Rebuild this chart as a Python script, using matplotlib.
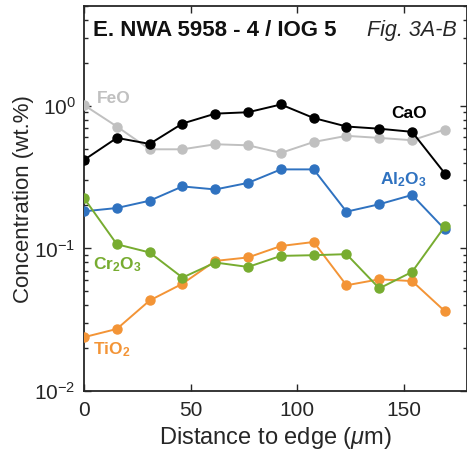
import matplotlib
matplotlib.use("Agg")
import matplotlib.pyplot as plt
from matplotlib.ticker import LogLocator, FixedLocator

plt.rcParams['font.family'] = ['Liberation Sans', 'DejaVu Sans']
plt.rcParams['mathtext.fontset'] = 'custom'
plt.rcParams['mathtext.rm'] = 'Liberation Sans'
plt.rcParams['mathtext.it'] = 'Liberation Sans:italic'
plt.rcParams['mathtext.bf'] = 'Liberation Sans:bold'
plt.rcParams['mathtext.default'] = 'regular'

distance = [0, 15.4, 30.8, 46.2, 61.6, 77.0, 92.4, 107.8, 123.2, 138.6, 154.0, 169.4]
cao = [0.417, 0.595, 0.54, 0.75, 0.88, 0.90, 1.02, 0.82, 0.715, 0.69, 0.656, 0.335]
feo = [1.01, 0.715, 0.495, 0.495, 0.537, 0.528, 0.467, 0.557, 0.615, 0.595, 0.573, 0.68]
al2o3 = [0.182, 0.192, 0.216, 0.272, 0.259, 0.288, 0.358, 0.358, 0.181, 0.204, 0.237, 0.136]
cr2o3 = [0.225, 0.107, 0.0937, 0.0625, 0.0797, 0.0742, 0.0887, 0.0897, 0.0912, 0.0525, 0.0685, 0.143]
tio2 = [0.0239, 0.0273, 0.0432, 0.0566, 0.0818, 0.0865, 0.104, 0.111, 0.0552, 0.0608, 0.0591, 0.0363]

series = [
    ("FeO", feo, "#c0c0c0"),
    ("CaO", cao, "#000000"),
    ("Al$_2$O$_3$", al2o3, "#2f72c0"),
    ("TiO$_2$", tio2, "#f39436"),
    ("Cr$_2$O$_3$", cr2o3, "#77ac30"),
]

fig = plt.figure(figsize=(4.67, 4.57), dpi=100)
ax = fig.add_axes([0.180, 0.144, 0.821, 0.843])

for name, vals, col in series:
    ax.plot(distance, vals, '-o', color=col, lw=1.4, ms=6.5, zorder=3)

ax.set_yscale('log')
ax.set_xlim(0, 180)
ax.set_ylim(0.01, 5)
ax.xaxis.set_major_locator(FixedLocator([0, 50, 100, 150]))
ax.yaxis.set_major_locator(LogLocator(base=10, numticks=10))
ax.yaxis.set_minor_locator(LogLocator(base=10, subs=range(2, 10), numticks=10))

dark = '#262626'
for s in ax.spines.values():
    s.set_color(dark)
    s.set_linewidth(1.3)
ax.tick_params(which='both', direction='in', top=True, right=True, color=dark,
               labelcolor=dark, labelsize=15, width=1.0)
ax.tick_params(which='major', length=5)
ax.tick_params(axis='x', which='major', pad=7)
ax.tick_params(axis='y', which='major', pad=6)
ax.tick_params(which='minor', length=3)

ax.set_xlabel('Distance to edge ($\\mathit{\\mu}$m)', fontsize=17, color=dark, labelpad=4)
ax.set_ylabel('Concentration (wt.%)', fontsize=16, color=dark, labelpad=0)

# series labels
ax.text(6, 1.12, 'FeO', color='#c0c0c0', fontsize=12.5, fontweight='bold', ha='left', va='center')
ax.text(161, 0.88, 'CaO', color='#000000', fontsize=12.5, fontweight='bold', ha='right', va='center')
ax.text(161, 0.305, 'Al$_2$O$_3$', color='#2f72c0', fontsize=12.5, fontweight='bold', ha='right', va='center')
ax.text(4, 0.0767, 'Cr$_2$O$_3$', color='#77ac30', fontsize=12.5, fontweight='bold', ha='left', va='center')
ax.text(4, 0.0195, 'TiO$_2$', color='#f39436', fontsize=12.5, fontweight='bold', ha='left', va='center')

ax.text(0.023, 0.935, 'E. NWA 5958 - 4 / IOG 5', transform=ax.transAxes, fontsize=16,
        fontweight='bold', color='#111111', ha='left', va='center')
ax.text(0.972, 0.935, 'Fig. 3A-B', transform=ax.transAxes, fontsize=15.5,
        fontstyle='italic', color=dark, ha='right', va='center')

fig.savefig('out.png', dpi=100)
